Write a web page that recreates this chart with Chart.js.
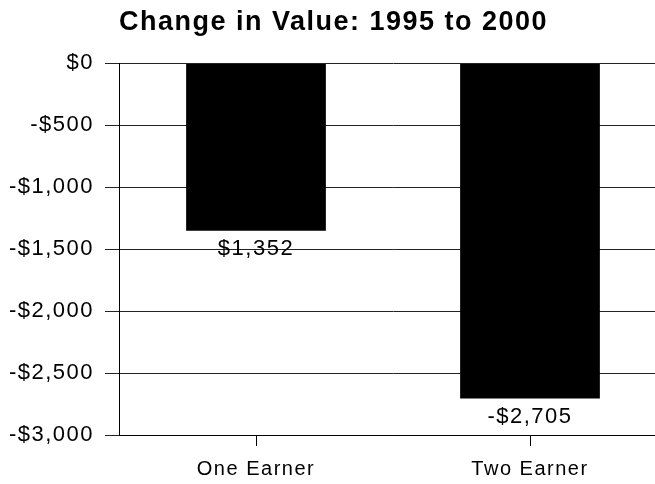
<!DOCTYPE html>
<html>
<head>
<meta charset="utf-8">
<script src="https://cdn.jsdelivr.net/npm/chart.js@4"></script>
<style>
  html, body { margin: 0; padding: 0; background: #fff; overflow: hidden; }
  /* the plot in the original runs a little past the right edge */
  #wrap { width: 667px; height: 484px; }
</style>
</head>
<body>
<div id="wrap"><canvas id="valueChart"></canvas></div>
<script>
// Chart data
const categories = ['One Earner', 'Two Earner'];
const changeValues = [-1352, -2705];
const valueLabels = ['$1,352', '-$2,705'];
const yTicks = [0, -500, -1000, -1500, -2000, -2500, -3000];

const FONT = '"Liberation Sans", Arial, sans-serif';

function formatDollar(v) {
  const s = '$' + Math.abs(v).toLocaleString('en-US');
  return v < 0 ? '-' + s : s;
}

// the original text is set quite wide
const wideText = {
  id: 'wideText',
  beforeDraw(chart) {
    chart.ctx.letterSpacing = '1.5px';
  }
};

// draws the value under each bar
const barLabels = {
  id: 'barLabels',
  afterDatasetsDraw(chart) {
    const ctx = chart.ctx;
    const meta = chart.getDatasetMeta(0);
    ctx.save();
    ctx.font = '22px ' + FONT;
    ctx.fillStyle = '#000';
    ctx.textAlign = 'center';
    ctx.textBaseline = 'middle';
    meta.data.forEach((bar, i) => {
      ctx.fillText(valueLabels[i], bar.x, bar.y + 18);
    });
    ctx.restore();
  }
};

const ctx = document.getElementById('valueChart').getContext('2d');

new Chart(ctx, {
  type: 'bar',
  data: {
    labels: categories,
    datasets: [{
      data: changeValues,
      backgroundColor: '#000',
      borderWidth: 0,
      barPercentage: 0.51,
      categoryPercentage: 1
    }]
  },
  options: {
    responsive: true,
    maintainAspectRatio: false,
    animation: false,
    layout: { padding: { top: 2, right: 0, left: 0, bottom: 0 } },
    scales: {
      x: {
        grid: {
          drawOnChartArea: false,
          offset: false,
          tickLength: 11,
          color: '#000'
        },
        border: { display: true, color: '#000', width: 1 },
        ticks: {
          color: '#000',
          padding: 11,
          font: { size: 20, family: FONT }
        },
        afterFit: function (axis) { axis.height = 49; }
      },
      y: {
        min: -3000,
        max: 0,
        afterBuildTicks: function (axis) {
          axis.ticks = yTicks.map(v => ({ value: v }));
        },
        grid: {
          color: '#222',
          tickLength: 14,
          lineWidth: 1
        },
        border: { display: true, color: '#000', width: 1 },
        ticks: {
          color: '#000',
          padding: 11,
          font: { size: 22, family: FONT },
          callback: function (value) { return formatDollar(value); }
        },
        afterFit: function (axis) { axis.width = 119; }
      }
    },
    plugins: {
      title: {
        display: true,
        text: 'Change in Value: 1995 to 2000',
        color: '#000',
        font: { size: 27, weight: 'bold', family: FONT },
        padding: { top: 4, bottom: 25 }
      },
      legend: { display: false },
      tooltip: { enabled: false }
    }
  },
  plugins: [wideText, barLabels]
});
</script>
</body>
</html>
